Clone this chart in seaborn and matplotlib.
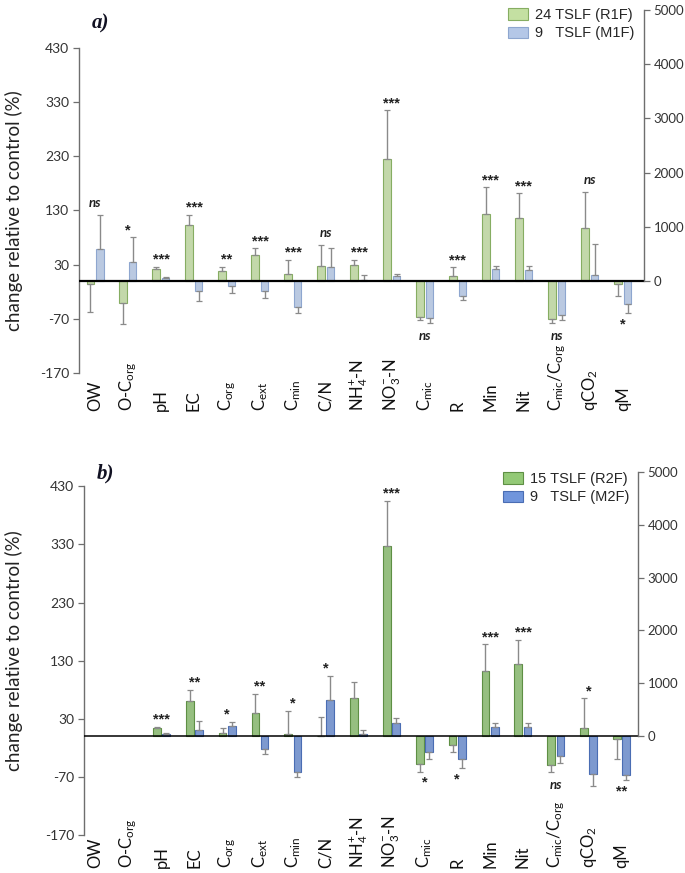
import numpy as np
import pandas as pd
import matplotlib
matplotlib.use("Agg")
import matplotlib.pyplot as plt
import seaborn as sns
from matplotlib.patches import Patch

sns.set_theme(style="white")
plt.rcParams["font.family"] = ["Lato", "DejaVu Sans"]
plt.rcParams["mathtext.default"] = "regular"

# ---------------- data ----------------
categories = ["OW", "O-$C_{org}$", "pH", "EC", "$C_{org}$", "$C_{ext}$", "$C_{min}$",
              "C/N", "N$H_4^{+}$-N", "N$O_3^{-}$-N", "$C_{mic}$", "R", "Min", "Nit",
              "$C_{mic}$/$C_{org}$", "q$CO_2$", "qM"]

series_a = ["24 TSLF (R1F)", "9   TSLF (M1F)"]
series_b = ["15 TSLF (R2F)", "9   TSLF (M2F)"]

a_r1f = [-6, -41, 22, 103, 18, 47, 13, 27, 29, 225, -66, 9, 124, 117, -71, 97, -5]
a_r1f_err = [51, 38, 4, 19, 8, 13, 26, 40, 10, 90, 6, 16, 49, 45, 6, 67, 23]
a_m1f = [58, 34, 5, -19, -10, -19, -49, 26, 2, 8.5, -69, -28, 22, 21, -63, 11, -43]
a_m1f_err = [64, 47, 3, 18, 13, 12, 10, 35, 8, 4, 8, 7, 5, 6, 10, 58, 17]
a_sig = ["ns", "*", "***", "***", "**", "***", "***", "ns", "***", "***",
         "ns", "***", "***", "***", "ns", "ns", "*"]

b_r2f = [np.nan, np.nan, 15, 60, 5.7, 40, 3, 0.5, 65, 327, -47, -15.5, 112.5, 124, -50, 14, -5]
b_r2f_err = [0, 0, 1.5, 20, 8, 33, 41, 32, 29, 78, 14, 12.5, 45.5, 42, 11, 51, 33.5]
b_m2f = [np.nan, np.nan, 4.6, 11, 18, -22, -61, 63, 3.4, 23.5, -27.5, -39, 16, 16.6, -34.4, -65.4, -67]
b_m2f_err = [0, 0, 1, 15, 7, 8, 10, 41, 6.6, 8.5, 12.5, 15.5, 7, 6.5, 11.6, 20, 9]
b_sig = ["", "", "***", "**", "*", "**", "*", "*", "", "***",
         "*", "*", "***", "***", "ns", "*", "**"]

left_ticks = [-170, -70, 30, 130, 230, 330, 430]
right_ticks = [0, 1000, 2000, 3000, 4000, 5000]

W, H = 685, 873
fig = plt.figure(figsize=(W / 100, H / 100), dpi=100)

spine_col = "#6e6e6e"
txt_col = "#333333"


def draw_panel(rect, vals1, errs1, vals2, errs2, sig, series, colors, edges,
               ylim, ylim2, xlim, xpad, panel_lab, lab_xy, leg_xy, ylab_xy, zero_lw):
    ax = fig.add_axes(rect)
    df = pd.DataFrame({
        "category": categories * 2,
        "series": [series[0]] * len(categories) + [series[1]] * len(categories),
        "value": list(vals1) + list(vals2),
    })
    sns.barplot(data=df, x="category", y="value", hue="series", order=categories,
                hue_order=series, palette=colors, width=0.56, gap=0.16,
                errorbar=None, linewidth=0.8, legend=False, ax=ax)
    errs = [errs1, errs2]
    bar_conts = list(ax.containers)[:2]
    for ci, cont in enumerate(bar_conts):
        for bar in list(cont):
            if bar is None:
                continue
            bar.set_edgecolor(edges[ci])
            h = bar.get_height()
            if np.isnan(h):
                continue
            cx = bar.get_x() + bar.get_width() / 2
            idx = int(round(cx))
            e = errs[ci][idx]
            yerr = [[0], [e]] if h >= 0 else [[e], [0]]
            ax.errorbar(cx, h, yerr=yerr, fmt="none", ecolor="#8a8a8a",
                        elinewidth=1.0, capsize=2.2, capthick=0.9, zorder=1)
    ax.axhline(0, color="black", lw=zero_lw, zorder=3)

    # significance labels
    for i, s in enumerate(sig):
        if not s:
            continue
        v = [vals1[i], vals2[i]]
        e = [errs1[i], errs2[i]]
        pos = [vv + ee for vv, ee in zip(v, e) if not np.isnan(vv) and vv > 0]
        italic = s == "ns"
        kw = dict(ha="center", textcoords="offset points", fontweight="bold",
                  color="#222222")
        if italic:
            kw.update(fontsize=9.5, fontstyle="italic", family="Lato")
        else:
            kw.update(fontsize=10.5, family="Liberation Sans")
        if pos:
            y = max(pos)
            off = 4 if italic else 0
            ax.annotate(s, (i, y), xytext=(0, off), va="bottom", **kw)
        else:
            y = min(vv - ee for vv, ee in zip(v, e) if not np.isnan(vv))
            off = 5 if italic else 3
            ax.annotate(s, (i, y), xytext=(0, -off), va="top", **kw)

    ax.set_xlim(*xlim)
    ax.set_ylim(*ylim)
    ax.set_yticks(left_ticks)
    ax.set_yticklabels([str(t) for t in left_ticks], fontsize=10, color=txt_col)
    for sp in ["top", "right", "bottom"]:
        ax.spines[sp].set_visible(False)
    ax.spines["left"].set_bounds(-170, 430)
    ax.spines["left"].set_color(spine_col)
    ax.spines["left"].set_linewidth(1.0)
    ax.tick_params(axis="y", left=True, length=4, width=0.9, color=spine_col,
                   direction="out", pad=3)
    ax.tick_params(axis="x", bottom=False, length=0, pad=xpad)
    ax.set_xlabel("")
    ax.set_ylabel("")
    for lbl in ax.get_xticklabels():
        lbl.set_rotation(90)
        lbl.set_va("bottom")
        lbl.set_ha("center")
        lbl.set_fontsize(12)
        lbl.set_color("#111111")

    ax2 = ax.twinx()
    ax2.set_ylim(*ylim2)
    ax2.set_yticks(right_ticks)
    ax2.set_yticklabels([str(t) for t in right_ticks], fontsize=9.5, color=txt_col)
    for sp in ["top", "left", "bottom"]:
        ax2.spines[sp].set_visible(False)
    ax2.spines["right"].set_bounds(0, 5000)
    ax2.spines["right"].set_color(spine_col)
    ax2.spines["right"].set_linewidth(1.0)
    ax2.tick_params(axis="y", right=True, length=4, width=0.9, color=spine_col,
                    direction="out", pad=3)
    ax2.grid(False)

    handles = [Patch(facecolor=colors[0], edgecolor=edges[0], linewidth=0.8),
               Patch(facecolor=colors[1], edgecolor=edges[1], linewidth=0.8)]
    ax2.legend(handles, series, loc="upper left", bbox_to_anchor=leg_xy,
               bbox_transform=fig.transFigure, frameon=False, borderpad=0,
               borderaxespad=0, handlelength=1.4, handleheight=0.85,
               handletextpad=0.45, labelspacing=0.3,
               prop={"family": "Liberation Sans", "size": 10.5})

    fig.text(lab_xy[0], lab_xy[1], panel_lab, fontsize=15, fontweight="bold",
             fontstyle="italic", family="Liberation Serif", color="#111122",
             ha="left", va="center")
    fig.text(ylab_xy[0], ylab_xy[1], "change relative to control (%)", rotation=90,
             ha="center", va="center", fontsize=13.5, color="#222222")
    return ax


# panel a
draw_panel(rect=[79 / W, 1 - 373 / H, (644 - 79) / W, (373 - 10) / H],
           vals1=a_r1f, errs1=a_r1f_err, vals2=a_m1f, errs2=a_m1f_err, sig=a_sig,
           series=series_a, colors=["#c4e0a2", "#b4c7e7"], edges=["#86ad62", "#8ea6cf"],
           ylim=(-170, 500), ylim2=(-1700, 5000), xlim=(-0.485, 16.64), xpad=27,
           panel_lab="a)", lab_xy=(92 / W, 1 - 23 / H), leg_xy=(508 / W, 1 - 8 / H),
           ylab_xy=(14 / W, 1 - 211 / H), zero_lw=1.6)

# panel b
draw_panel(rect=[84 / W, 1 - 835 / H, (638 - 84) / W, (835 - 472) / H],
           vals1=b_r2f, errs1=b_r2f_err, vals2=b_m2f, errs2=b_m2f_err, sig=b_sig,
           series=series_b, colors=["#93c976", "#7095dc"], edges=["#5e8f44", "#4a6db3"],
           ylim=(-170, 454.7), ylim2=(-1871, 5000), xlim=(-0.354, 16.5), xpad=24,
           panel_lab="b)", lab_xy=(97 / W, 1 - 473 / H), leg_xy=(503 / W, 1 - 472 / H),
           ylab_xy=(14 / W, 1 - 651 / H), zero_lw=1.1)

fig.savefig("out.png", dpi=100)
